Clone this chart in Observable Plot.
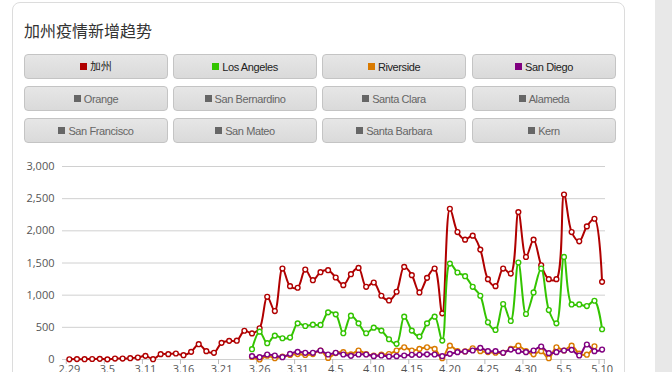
<!DOCTYPE html>
<html>
<head>
<meta charset="utf-8">
<script src="https://cdn.jsdelivr.net/npm/d3@7"></script>
<script src="https://cdn.jsdelivr.net/npm/@observablehq/plot@0.6"></script>
<style>
  html, body { margin: 0; padding: 0; background: #fff; width: 672px; height: 372px; overflow: hidden; }
  #side { position: absolute; left: 655px; top: 0; width: 17px; height: 372px; background: #e8e8e8; }
  #card { position: absolute; left: 12px; top: 2px; width: 613px; height: 420px; border: 1px solid #dcdcdc; border-radius: 8px; box-sizing: border-box; }
  #title { position: absolute; left: 24px; top: 19px; font-family: "Noto Sans CJK SC", sans-serif; font-size: 16px; color: #333; line-height: 22px; }
  .btn { position: absolute; width: 144px; height: 25px; box-sizing: border-box; border: 1px solid #c4c4c4; border-radius: 4px;
         background: linear-gradient(#e6e6e6, #dadada); display: flex; align-items: center; justify-content: center;
         font-family: "Liberation Sans Narrow", "Liberation Sans", Arial, sans-serif; font-size: 11px; letter-spacing: -0.4px; color: #666; }
  .btn.on { color: #222; }
  .btn .sq { display: inline-block; width: 7px; height: 7px; margin-right: 3px; background: #666; }
  #chart { position: absolute; left: 10px; top: 150px; }
</style>
</head>
<body>
<div id="side"></div>
<div id="card"></div>
<div id="title">加州疫情新增趋势</div>
<div id="buttons"></div>
<div id="chart"></div>
<script>
const dates = ["2.29","3.1","3.2","3.3","3.4","3.5","3.6","3.7","3.9","3.10",
  "3.11","3.12","3.13","3.14","3.15","3.16","3.17","3.18","3.19","3.20",
  "3.21","3.22","3.23","3.24","3.25","3.26","3.27","3.28","3.29","3.30",
  "3.31","4.1","4.2","4.3","4.4","4.5","4.6","4.7","4.8","4.9",
  "4.10","4.11","4.12","4.13","4.14","4.15","4.16","4.17","4.18","4.19",
  "4.20","4.21","4.22","4.23","4.24","4.25","4.26","4.27","4.28","4.29",
  "4.30","5.1","5.2","5.3","5.4","5.5","5.6","5.7","5.8","5.9","5.10"];
const tickLabels = ["2.29","3.5","3.11","3.16","3.21","3.26","3.31","4.5","4.10","4.15","4.20","4.25","4.30","5.5","5.10"];
const yTicks = [0, 500, 1000, 1500, 2000, 2500, 3000];

const california = [3,6,5,8,10,2,15,15,20,30,
  57,5,83,83,93,67,119,238,130,104,
  259,290,292,447,406,485,975,753,1414,1140,
  1115,1398,1233,1357,1388,1275,1156,1326,1424,1130,
  1197,991,918,1053,1440,1311,1042,1269,1414,717,
  2343,1981,1863,1925,1708,1249,1140,1414,1336,2291,
  1594,1863,1465,1249,1249,2565,1981,1837,2069,2188,1207];
const losAngeles = [null,null,null,null,null,null,null,null,null,null,
  null,null,null,null,null,null,null,null,null,null,
  null,null,null,null,160,433,253,371,330,341,
  562,521,542,537,733,702,408,681,562,408,
  495,449,315,243,666,449,356,562,666,294,
  1491,1352,1295,1130,991,578,459,862,599,1507,
  707,1042,1414,769,562,1594,856,856,831,913,470];
const riverside = [null,null,null,null,null,null,null,null,null,null,
  null,null,null,null,null,null,null,null,null,null,
  null,null,null,null,40,0,60,20,45,70,
  85,70,85,140,25,100,115,80,140,85,
  60,75,85,140,190,140,165,190,165,20,
  215,130,125,175,130,115,105,105,165,215,
  130,80,130,20,190,140,215,90,75,205,null];
const sanDiego = [null,null,null,null,null,null,null,null,null,null,
  null,null,null,null,null,null,null,null,null,null,
  null,null,null,null,52,36,78,62,36,88,
  119,104,104,140,78,104,78,57,78,78,
  52,62,47,52,62,73,73,80,78,52,
  88,114,124,140,181,130,130,104,155,130,
  114,140,202,99,114,140,150,62,233,130,155];

const buttonNames = ["加州","Los Angeles","Riverside","San Diego",
  "Orange","San Bernardino","Santa Clara","Alameda",
  "San Francisco","San Mateo","Santa Barbara","Kern"];
const seriesColors = ["#b00000","#33c400","#d97a00","#800080"];

// buttons
const btnWrap = document.getElementById("buttons");
const colX = [24, 173, 322, 472], rowY = [54, 86, 118];
buttonNames.forEach((name, k) => {
  const b = document.createElement("div");
  const on = k < seriesColors.length;
  b.className = "btn" + (on ? " on" : "");
  b.style.left = colX[k % 4] + "px";
  b.style.top = rowY[Math.floor(k / 4)] + "px";
  const sq = document.createElement("span");
  sq.className = "sq";
  if (on) sq.style.background = seriesColors[k];
  b.appendChild(sq);
  b.appendChild(document.createTextNode(name));
  btnWrap.appendChild(b);
});

const seriesList = [california, losAngeles, riverside, sanDiego];
const tidy = seriesList.map(arr => arr.map((v, i) => ({i, v})).filter(d => d.v != null));
const labelIdx = tickLabels.map(l => dates.indexOf(l));
const tickPos = labelIdx.map(i => i - 0.4).concat([dates.length - 0.7]);

const marks = [
  Plot.gridY(yTicks, {stroke: "#d0d0d0", strokeOpacity: 1}),
  Plot.axisY(yTicks, {tickSize: 0, tickPadding: 8, tickFormat: d3.format(","), fill: "#555", label: null}),
  Plot.axisX(tickPos, {tickSize: 5, tickFormat: () => "", stroke: "#bbb", label: null}),
  Plot.axisX(labelIdx, {tickSize: 0, tickPadding: 6, tickFormat: i => dates[i], fill: "#555", label: null})
];
tidy.forEach((data, k) => {
  marks.push(Plot.line(data, {x: "i", y: "v", stroke: seriesColors[k], strokeWidth: 2, curve: "catmull-rom"}));
  marks.push(Plot.dot(data, {x: "i", y: "v", r: 2.4, fill: "white", stroke: seriesColors[k], strokeWidth: 1.4}));
});

const chart = Plot.plot({
  width: 620, height: 240,
  marginLeft: 52, marginRight: 25, marginTop: 16, marginBottom: 31,
  x: {type: "linear", domain: [-0.9, 70.45], axis: null},
  y: {domain: [0, 3000], axis: null},
  style: {fontFamily: "'Open Sans', sans-serif", fontSize: "11px", background: "transparent", color: "#555", overflow: "visible"},
  marks
});
document.getElementById("chart").appendChild(chart);
</script>
</body>
</html>
